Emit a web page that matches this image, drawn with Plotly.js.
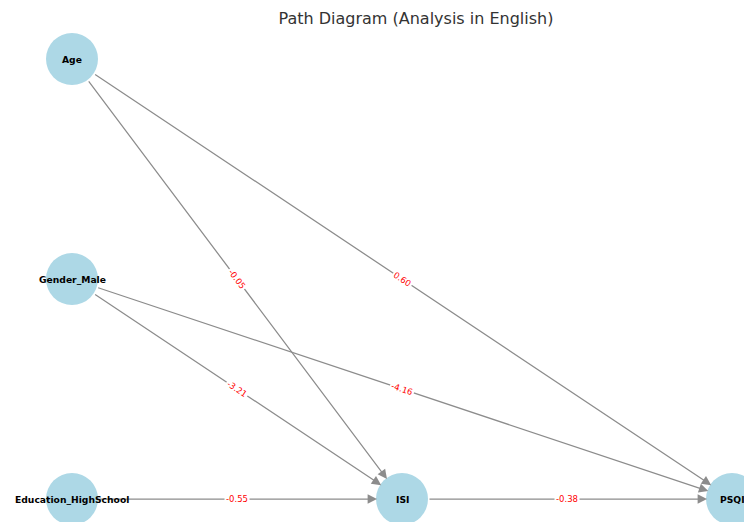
<!DOCTYPE html>
<html>
<head>
<meta charset="utf-8">
<script src="https://cdn.plot.ly/plotly-3.0.1.min.js"></script>
<style>html,body{margin:0;padding:0;background:#fff;}#chart{width:744px;height:522px;}</style>
</head>
<body>
<div id="chart"></div>
<script>
// Nodes
const nodes = ['Age', 'Gender_Male', 'Education_HighSchool', 'ISI', 'PSQI'];
const nodeX = [0, 0, 0, 1, 2];
const nodeY = [2, 1, 0, 0, 0];
// Edges (paths) and coefficients
const edgeFrom = ['Age', 'Age', 'Gender_Male', 'Gender_Male', 'Education_HighSchool', 'ISI'];
const edgeTo   = ['ISI', 'PSQI', 'ISI', 'PSQI', 'ISI', 'PSQI'];
const coefs    = [-0.05, 0.60, -3.21, -4.16, -0.55, -0.38];

const W = 744, H = 522;
const xRange = [-72 / 330, (W - 72) / 330];
const yRange = [-(H - 499) / 220, 2 + 59 / 220];
const pxX = W / (xRange[1] - xRange[0]);
const pxY = H / (yRange[1] - yRange[0]);
const nodeR = 26;

const idx = n => nodes.indexOf(n);
const annotations = [];

// arrows
edgeFrom.forEach((f, i) => {
  const a = idx(f), b = idx(edgeTo[i]);
  annotations.push({
    x: nodeX[b], y: nodeY[b], xref: 'x', yref: 'y',
    ax: nodeX[a], ay: nodeY[a], axref: 'x', ayref: 'y',
    text: '', showarrow: true,
    arrowhead: 2, arrowsize: 1.5, arrowwidth: 1.25, arrowcolor: '#8c8c8c',
    standoff: nodeR - 1, startstandoff: nodeR
  });
});
// edge labels
edgeFrom.forEach((f, i) => {
  const a = idx(f), b = idx(edgeTo[i]);
  const dxp = (nodeX[b] - nodeX[a]) * pxX;
  const dyp = -(nodeY[b] - nodeY[a]) * pxY;
  const ang = Math.atan2(dyp, dxp) * 180 / Math.PI;
  annotations.push({
    x: (nodeX[a] + nodeX[b]) / 2, y: (nodeY[a] + nodeY[b]) / 2,
    xref: 'x', yref: 'y', showarrow: false,
    text: coefs[i].toFixed(2), textangle: ang,
    font: {family: 'DejaVu Sans', size: 8.5, color: '#ff0000'},
    bgcolor: '#ffffff', borderpad: 1
  });
});
// node labels
nodes.forEach((n, i) => {
  annotations.push({
    x: nodeX[i], y: nodeY[i], xref: 'x', yref: 'y', showarrow: false,
    text: '<b>' + n + '</b>',
    font: {family: 'DejaVu Sans', size: 9.2, color: '#000000'}
  });
});

const traces = [{
  type: 'scatter', mode: 'markers',
  x: nodeX, y: nodeY,
  marker: {size: nodeR * 2, color: '#ADD8E6', line: {width: 0}},
  hoverinfo: 'text', text: nodes, cliponaxis: false
}];

const layout = {
  width: W, height: H,
  margin: {l: 0, r: 0, t: 0, b: 0, pad: 0},
  paper_bgcolor: '#ffffff', plot_bgcolor: '#ffffff',
  showlegend: false,
  title: {text: 'Path Diagram (Analysis in English)', x: 416 / W, xanchor: 'center',
          y: 1 - 18 / H, yanchor: 'middle', xref: 'paper', yref: 'container',
          font: {family: 'DejaVu Sans', size: 16, color: '#333333'}},
  xaxis: {range: xRange, visible: false, fixedrange: true},
  yaxis: {range: yRange, visible: false, fixedrange: true},
  annotations: annotations
};

Plotly.newPlot('chart', traces, layout, {displayModeBar: false, staticPlot: true});
</script>
</body>
</html>
